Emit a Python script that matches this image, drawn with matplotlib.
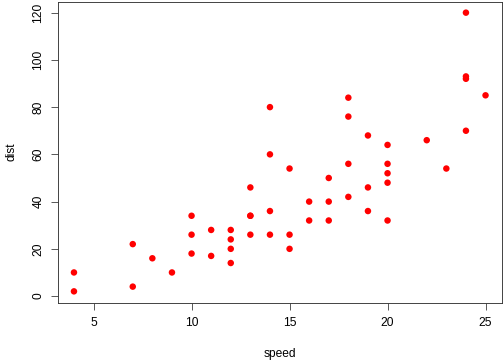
import numpy as np
import matplotlib
matplotlib.use('Agg')
import matplotlib.pyplot as plt

speed = [4, 4, 7, 7, 8, 9, 10, 10, 10, 11, 11, 12, 12, 12, 12, 13, 13, 13, 13,
         14, 14, 14, 14, 15, 15, 15, 16, 16, 17, 17, 17, 18, 18, 18, 18, 19, 19,
         19, 20, 20, 20, 20, 20, 22, 23, 24, 24, 24, 24, 25]
dist = [2, 10, 4, 22, 16, 10, 18, 26, 34, 17, 28, 14, 20, 24, 28, 26, 34, 34, 46,
        26, 36, 60, 80, 20, 26, 54, 32, 40, 32, 40, 50, 42, 56, 76, 84, 36, 46,
        68, 32, 48, 52, 56, 64, 66, 54, 70, 92, 93, 120, 85]
xticks = [5, 10, 15, 20, 25]
yticks = [0, 20, 40, 60, 80, 100, 120]

plt.rcParams['font.family'] = ['Liberation Sans', 'DejaVu Sans']

fig = plt.figure(figsize=(7, 5), dpi=72)
ax = fig.add_axes([57.5/504, 1 - 302.5/360, (502 - 57.5)/504, (302.5 - 1.5)/360])
ax.scatter(speed, dist, s=42, color='red', edgecolors='none', zorder=3)

ax.set_xlim(4 - 0.84, 25 + 0.84)
ax.set_ylim(2 - 4.72, 120 + 4.72)
ax.set_xticks(xticks)
ax.set_yticks(yticks)
ax.set_yticklabels([str(t) for t in yticks], rotation=90, va='center')
ax.tick_params(direction='out', length=7, width=0.8, labelsize=12, colors='#333333',
               labelcolor='black')
ax.tick_params(axis='x', pad=8)
ax.tick_params(axis='y', pad=6)
for s in ax.spines.values():
    s.set_linewidth(0.9)
    s.set_color('#333333')
ax.set_xlabel('speed', fontsize=12, labelpad=18)
ax.set_ylabel('dist', fontsize=12, labelpad=15)

fig.savefig('out.png', dpi=72)
